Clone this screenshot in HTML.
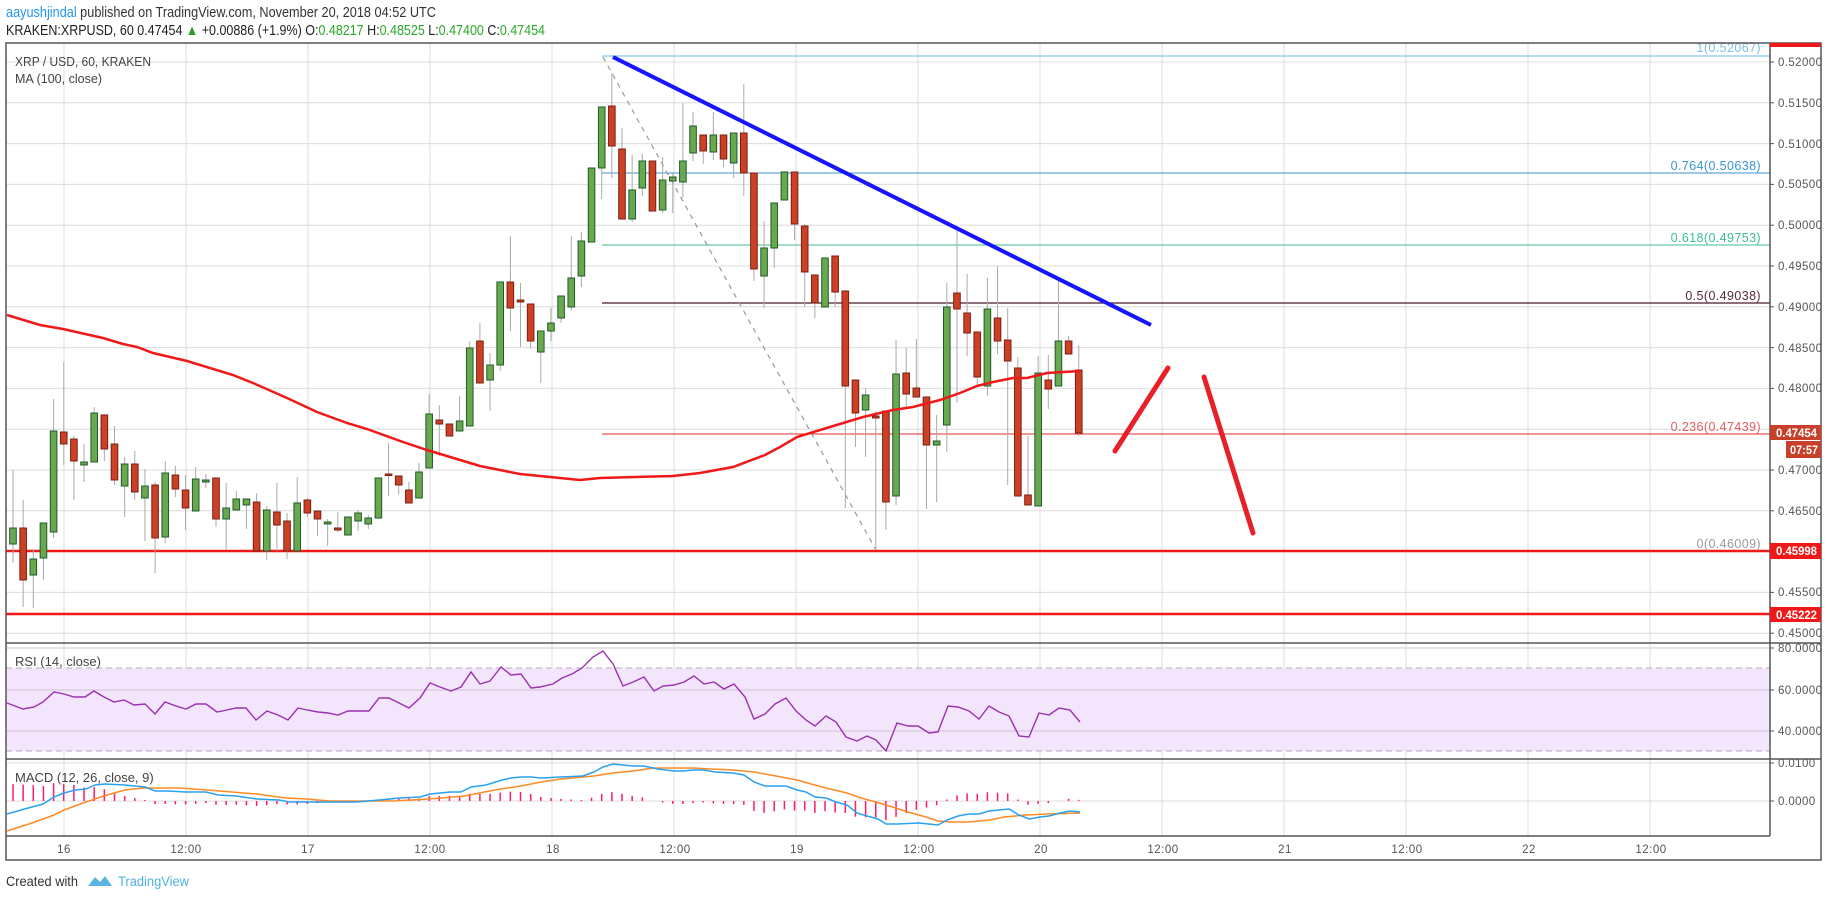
<!DOCTYPE html>
<html><head><meta charset="utf-8"><style>
html,body{margin:0;padding:0;background:#fff;}
svg{display:block;font-family:"Liberation Sans",sans-serif;}
</style></head><body>
<svg id="s" width="1828" height="899" viewBox="0 0 1828 899" xmlns="http://www.w3.org/2000/svg">
<rect width="1828" height="899" fill="#fff"/>
<g id="grid" stroke="#dcdcdc" stroke-width="1"></g>
<rect x="6" y="668" width="1764" height="83" fill="#f3e5fc"/>
<line x1="6" y1="668" x2="1770" y2="668" stroke="#b8a8c0" stroke-dasharray="6,4"/>
<line x1="6" y1="751" x2="1770" y2="751" stroke="#b8a8c0" stroke-dasharray="6,4"/>
<g id="gridr" stroke="#cfc4d6" stroke-width="1"></g>
<line x1="602" y1="56" x2="1770" y2="56" stroke="#6ab8e4" stroke-width="1"/>
<line x1="602" y1="173" x2="1770" y2="173" stroke="#3a96d0" stroke-width="1"/>
<line x1="602" y1="245" x2="1770" y2="245" stroke="#3cbf8e" stroke-width="1"/>
<line x1="602" y1="303" x2="1770" y2="303" stroke="#4a1a2e" stroke-width="1.2"/>
<line x1="602" y1="434" x2="1770" y2="434" stroke="#e02a2a" stroke-width="1"/>
<line x1="6" y1="551" x2="1770" y2="551" stroke="#f01818" stroke-width="2.5"/>
<line x1="6" y1="614" x2="1770" y2="614" stroke="#f01818" stroke-width="2.5"/>
<g font-size="12.5" text-anchor="end" letter-spacing="0.4">
<text x="1761" y="52" fill="#7cc0e8">1(0.52067)</text>
<text x="1761" y="170" fill="#3a96d0">0.764(0.50638)</text>
<text x="1761" y="242" fill="#3cbf8e">0.618(0.49753)</text>
<text x="1761" y="300" fill="#5a2a3e">0.5(0.49038)</text>
<text x="1761" y="431" fill="#e06060">0.236(0.47439)</text>
<text x="1761" y="548" fill="#9a9a9a">0(0.46009)</text>
</g>
<line x1="603" y1="57" x2="876" y2="550" stroke="#999" stroke-width="1.2" stroke-dasharray="5,5"/>
<g id="candles"></g>
<polyline id="ma" fill="none" stroke="#f01818" stroke-width="2.5"/>
<line x1="613" y1="57" x2="1151" y2="325" stroke="#1515ff" stroke-width="4"/>
<line x1="1115" y1="451" x2="1168" y2="368" stroke="#e8202a" stroke-width="5" stroke-linecap="round"/>
<line x1="1204" y1="377" x2="1253" y2="533" stroke="#e8202a" stroke-width="5" stroke-linecap="round"/>
<polyline id="rsi" fill="none" stroke="#9b30b0" stroke-width="1.4"/>
<g id="hist" stroke="#ff1a6b" stroke-width="1.5"></g>
<polyline id="sig" fill="none" stroke="#ff8a26" stroke-width="1.5"/>
<polyline id="macd" fill="none" stroke="#2aa0f0" stroke-width="1.5"/>
<rect x="6" y="43" width="1815" height="817" fill="none" stroke="#555" stroke-width="1.5"/>
<line x1="1770" y1="43" x2="1770" y2="836" stroke="#555" stroke-width="1.5"/>
<line x1="6" y1="836" x2="1770" y2="836" stroke="#555" stroke-width="1.5"/>
<line x1="6" y1="643" x2="1821" y2="643" stroke="#555" stroke-width="1.5"/>
<line x1="6" y1="759" x2="1821" y2="759" stroke="#555" stroke-width="1.5"/>
<rect x="1770" y="43" width="51" height="4" fill="#f01818"/>
<g id="ticks" stroke="#555"></g>
<g font-size="11.5" fill="#555" letter-spacing="0.4">
<text x="1778" y="66">0.52000</text><text x="1778" y="107">0.51500</text><text x="1778" y="148">0.51000</text>
<text x="1778" y="188">0.50500</text><text x="1778" y="229">0.50000</text><text x="1778" y="270">0.49500</text>
<text x="1778" y="311">0.49000</text><text x="1778" y="352">0.48500</text><text x="1778" y="392">0.48000</text>
<text x="1778" y="474">0.47000</text><text x="1778" y="515">0.46500</text>
<text x="1778" y="596">0.45500</text><text x="1778" y="637">0.45000</text>
<text x="1778" y="652">80.0000</text><text x="1778" y="694">60.0000</text><text x="1778" y="735">40.0000</text>
<text x="1778" y="767">0.0100</text><text x="1778" y="805">0.0000</text>
</g>
<rect x="1770" y="425" width="51" height="15" fill="#c8402a"/>
<rect x="1786" y="441" width="35" height="17" fill="#c8402a"/>
<rect x="1770" y="543" width="51" height="16" fill="#f01818"/>
<rect x="1770" y="607" width="51" height="15" fill="#f01818"/>
<g font-size="11.5" fill="#fff" font-weight="bold">
<text x="1776" y="437" textLength="41" lengthAdjust="spacingAndGlyphs">0.47454</text>
<text x="1790" y="454" textLength="28" lengthAdjust="spacingAndGlyphs">07:57</text>
<text x="1776" y="555" textLength="41" lengthAdjust="spacingAndGlyphs">0.45998</text>
<text x="1776" y="619" textLength="41" lengthAdjust="spacingAndGlyphs">0.45222</text>
</g>
<g font-size="11.5" fill="#555" text-anchor="middle" letter-spacing="0.5">
<text x="64" y="853">16</text><text x="186" y="853">12:00</text><text x="308" y="853">17</text>
<text x="430" y="853">12:00</text><text x="553" y="853">18</text><text x="675" y="853">12:00</text>
<text x="797" y="853">19</text><text x="919" y="853">12:00</text><text x="1041" y="853">20</text>
<text x="1163" y="853">12:00</text><text x="1285" y="853">21</text><text x="1407" y="853">12:00</text>
<text x="1529" y="853">22</text><text x="1651" y="853">12:00</text>
</g>
<g font-size="13" fill="#444">
<text x="15" y="66" textLength="136" lengthAdjust="spacingAndGlyphs">XRP / USD, 60, KRAKEN</text>
<text x="15" y="83" textLength="87" lengthAdjust="spacingAndGlyphs">MA (100, close)</text>
<text x="15" y="666">RSI (14, close)</text>
<text x="15" y="782">MACD (12, 26, close, 9)</text>
</g>
<text x="6" y="17" font-size="14.5" textLength="430" lengthAdjust="spacingAndGlyphs"><tspan fill="#2196f3">aayushjindal</tspan><tspan fill="#333"> published on TradingView.com, November 20, 2018 04:52 UTC</tspan></text>
<text x="6" y="35" font-size="14.5" textLength="539" lengthAdjust="spacingAndGlyphs" fill="#222"><tspan>KRAKEN:XRPUSD, 60 0.47454 </tspan><tspan fill="#2a9d2a">▲</tspan><tspan> +0.00886 (+1.9%) O:</tspan><tspan fill="#2aa82a">0.48217</tspan><tspan> H:</tspan><tspan fill="#2aa82a">0.48525</tspan><tspan> L:</tspan><tspan fill="#2aa82a">0.47400</tspan><tspan> C:</tspan><tspan fill="#2aa82a">0.47454</tspan></text>
<text x="6" y="886" font-size="14" fill="#333" textLength="72" lengthAdjust="spacingAndGlyphs">Created with</text>
<path d="M88 886 l7 -9 l5 5 l5 -6 l7 10 z" fill="#5ab4e4"/>
<text x="118" y="886" font-size="14" fill="#4fb0e0" textLength="71" lengthAdjust="spacingAndGlyphs">TradingView</text>
</svg>
<script>
var NS="http://www.w3.org/2000/svg";
function el(p,t,a){var e=document.createElementNS(NS,t);for(var k in a)e.setAttribute(k,a[k]);p.appendChild(e);return e;}
var g=document.getElementById('grid'),gr=document.getElementById('gridr');
for(var k=0;k<14;k++){var x=64+122*k;el(g,'line',{x1:x,y1:43,x2:x,y2:836});}
for(var k=0;k<15;k++){var y=62+40.8*k;el(g,'line',{x1:6,y1:y,x2:1770,y2:y});}
[648,690,731].forEach(function(y){el(gr,'line',{x1:6,y1:y,x2:1770,y2:y});});
[763,801].forEach(function(y){el(g,'line',{x1:6,y1:y,x2:1770,y2:y});});
var tk=document.getElementById('ticks');
[62,102.8,143.6,184.4,225.2,266,306.8,347.6,388.4,470,510.8,592.4,633.2,648,690,731,763,801].forEach(function(y){el(tk,'line',{x1:1770,y1:y,x2:1774,y2:y});});
var C=[[528,544,470,563,1],[528,580,500,607,0],[559,575,549,608,1],[523,558,523,580,1],[431,532,399,538,1],[432,444,362,465,0],[439,461,436,500,0],[462,465,444,482,1],[413,462,407,462,1],[415,449,414,461,0],[444,480,426,485,0],[464,486,457,517,1],[464,492,451,500,0],[486,498,469,541,1],[485,538,482,573,0],[473,537,461,543,1],[475,489,466,497,0],[490,508,475,530,0],[479,511,467,511,1],[480,482,474,488,1],[478,519,478,527,0],[508,519,483,550,1],[499,510,491,510,1],[499,505,499,529,1],[502,551,493,551,0],[510,551,506,560,1],[512,525,483,551,0],[521,551,513,559,0],[503,551,477,551,1],[500,513,498,517,0],[511,519,511,536,0],[522,524,519,546,1],[528,530,512,532,0],[517,535,517,535,1],[513,521,510,531,1],[518,524,515,529,1],[478,518,478,518,1],[474,475,443,496,0],[476,485,476,494,0],[490,503,482,503,0],[472,498,463,498,1],[414,468,394,468,1],[420,424,405,456,0],[424,436,424,436,0],[421,431,396,431,1],[348,426,341,426,1],[341,383,323,383,0],[365,380,353,411,1],[282,365,282,371,1],[282,308,236,331,0],[300,302,283,347,0],[304,341,304,349,0],[331,352,331,383,1],[323,331,308,341,1],[296,318,296,323,1],[278,307,236,311,1],[241,276,232,287,1],[168,242,168,242,1],[107,168,107,199,1],[106,146,73,178,0],[149,219,128,219,0],[190,219,155,222,1],[161,188,154,196,1],[161,211,161,211,0],[180,210,157,213,1],[177,181,173,213,1],[161,182,103,198,1],[126,153,112,161,1],[135,151,135,164,0],[135,152,112,160,1],[135,159,135,167,0],[133,163,133,178,1],[133,173,84,196,0],[173,269,173,281,0],[248,276,221,308,1],[203,248,203,268,1],[172,200,172,200,1],[172,224,172,240,0],[226,272,224,307,0],[275,303,275,318,0],[258,307,258,307,1],[256,292,256,307,0],[291,386,291,508,0],[380,413,380,447,0],[395,410,388,457,1],[416,418,411,550,0],[411,502,411,530,0],[374,496,340,505,1],[373,394,348,409,0],[388,397,339,397,0],[397,445,397,509,0],[441,445,415,502,1],[307,425,283,452,1],[293,309,227,403,0],[313,333,274,356,0],[332,377,332,386,0],[309,386,278,396,1],[318,341,266,354,0],[340,361,308,485,0],[368,496,357,496,0],[495,505,436,505,0],[373,506,356,506,1],[380,389,355,409,0],[341,386,281,386,1],[341,354,336,354,0],[370,433,345,436,0]];
var cg=document.getElementById('candles');
C.forEach(function(c,i){var x=13+10.15*i;
el(cg,'line',{x1:x,y1:c[2],x2:x,y2:c[3],stroke:'#aaa','stroke-width':1});
var h=Math.max(c[1]-c[0],1.5);
el(cg,'rect',{x:x-3.3,y:c[0],width:6.6,height:h,fill:c[4]?'#6aa84f':'#cc4125',stroke:c[4]?'#1e5b2a':'#7a1f12','stroke-width':1});});
function pl(id,a){document.getElementById(id).setAttribute('points',a.map(function(p){return p[0]+','+p[1];}).join(' '));}
var MA=[[7,315],[40,325],[63,329],[103,338],[123,344],[137,347],[153,353],[187,361],[233,375],[253,383],[287,398],[317,412],[347,423],[367,429],[403,442],[427,450],[480,466],[520,474],[560,478],[580,480],[600,478],[673,476],[700,473],[733,467],[765,455],[780,447],[797,437],[830,427],[863,417],[893,410],[913,407],[940,400],[960,393],[977,386],[993,382],[1013,378],[1027,378],[1047,373],[1080,371]];
pl('ma',MA);
var R=[[7,703],[23,709],[34,707],[43,702],[54,692],[64,694],[74,697],[85,697],[94,691],[104,697],[114,702],[124,700],[134,705],[145,704],[155,714],[165,702],[176,706],[186,709],[196,704],[206,704],[217,712],[227,710],[236,708],[246,708],[256,720],[267,711],[278,715],[288,720],[298,708],[307,710],[318,712],[328,713],[338,715],[348,711],[359,711],[369,711],[379,698],[389,698],[399,703],[409,708],[420,698],[430,683],[440,687],[451,691],[461,687],[471,672],[480,684],[490,681],[501,667],[511,675],[521,674],[531,688],[540,687],[553,684],[562,678],[572,674],[582,668],[593,657],[603,651],[613,664],[623,686],[633,682],[644,677],[654,691],[663,686],[674,685],[684,682],[694,676],[704,684],[714,682],[724,689],[734,684],[745,697],[754,719],[765,714],[775,704],[786,698],[796,711],[806,720],[815,726],[826,716],[836,722],[846,737],[857,741],[867,736],[876,740],[886,751],[897,723],[908,726],[918,726],[929,733],[938,732],[948,706],[958,707],[969,711],[979,719],[989,706],[999,712],[1009,716],[1019,736],[1029,737],[1039,713],[1049,715],[1059,708],[1070,710],[1080,722]];
pl('rsi',R);
var B=[[7,814],[21,810],[43,804],[54,797],[64,793],[75,790],[86,789],[95,785],[105,784],[125,785],[145,787],[155,791],[168,791],[186,792],[206,792],[218,795],[236,796],[257,799],[279,800],[289,802],[307,802],[321,802],[343,802],[357,802],[379,800],[400,798],[420,797],[430,794],[450,792],[461,792],[471,787],[486,785],[502,780],[511,778],[521,777],[531,777],[541,778],[561,777],[583,776],[594,772],[603,767],[613,764],[633,766],[644,766],[658,769],[674,771],[683,771],[694,770],[704,770],[715,772],[733,773],[744,775],[754,782],[765,786],[786,786],[797,790],[806,792],[815,797],[826,798],[836,802],[847,805],[857,813],[867,816],[878,819],[886,824],[897,824],[919,823],[938,825],[947,820],[958,816],[969,814],[979,814],[989,811],[999,810],[1009,809],[1019,815],[1029,819],[1040,817],[1049,816],[1060,813],[1070,811],[1080,812]];
var O=[[7,831],[32,823],[54,815],[64,810],[86,802],[107,795],[125,790],[143,788],[179,788],[193,789],[207,790],[232,792],[257,794],[286,798],[307,799],[329,801],[350,801],[393,801],[429,799],[464,796],[500,789],[521,786],[541,782],[561,779],[594,776],[613,773],[633,771],[654,768],[676,768],[694,768],[711,769],[733,770],[754,772],[776,776],[797,780],[811,784],[826,788],[847,793],[861,798],[883,804],[908,812],[926,817],[938,821],[951,822],[969,822],[990,820],[1004,817],[1026,815],[1047,814],[1080,813]];
pl('macd',B);pl('sig',O);
function ip(a,x){for(var i=1;i<a.length;i++){if(x<=a[i][0]){var t=(x-a[i-1][0])/(a[i][0]-a[i-1][0]);return a[i-1][1]+t*(a[i][1]-a[i-1][1]);}}return a[a.length-1][1];}
var hg=document.getElementById('hist');
for(var i=0;i<106;i++){var x=13+10.15*i;var h=ip(O,x)-ip(B,x);if(Math.abs(h)<0.6)continue;el(hg,'line',{x1:x,y1:801,x2:x,y2:801-h});}
</script>
</body></html>
